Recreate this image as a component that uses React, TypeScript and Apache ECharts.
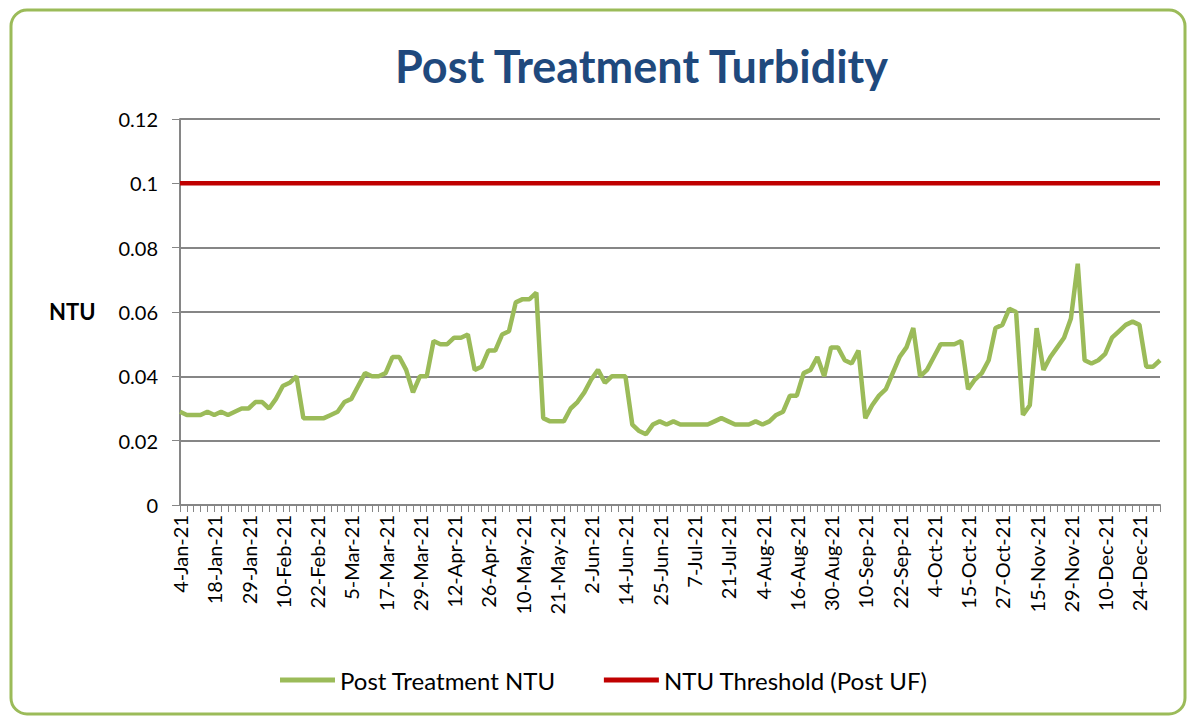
import React, { useEffect, useRef } from "react";
import * as echarts from "echarts";

const dates: string[] = [
  "4-Jan-21", "6-Jan-21", "8-Jan-21", "11-Jan-21", "13-Jan-21",
  "18-Jan-21", "20-Jan-21", "22-Jan-21", "25-Jan-21", "27-Jan-21",
  "29-Jan-21", "1-Feb-21", "3-Feb-21", "5-Feb-21", "8-Feb-21",
  "10-Feb-21", "12-Feb-21", "15-Feb-21", "17-Feb-21", "19-Feb-21",
  "22-Feb-21", "24-Feb-21", "26-Feb-21", "1-Mar-21", "3-Mar-21",
  "5-Mar-21", "8-Mar-21", "10-Mar-21", "12-Mar-21", "15-Mar-21",
  "17-Mar-21", "19-Mar-21", "22-Mar-21", "24-Mar-21", "26-Mar-21",
  "29-Mar-21", "31-Mar-21", "5-Apr-21", "7-Apr-21", "9-Apr-21",
  "12-Apr-21", "14-Apr-21", "16-Apr-21", "19-Apr-21", "21-Apr-21",
  "26-Apr-21", "28-Apr-21", "30-Apr-21", "5-May-21", "7-May-21",
  "10-May-21", "12-May-21", "14-May-21", "17-May-21", "19-May-21",
  "21-May-21", "24-May-21", "26-May-21", "28-May-21", "31-May-21",
  "2-Jun-21", "4-Jun-21", "7-Jun-21", "9-Jun-21", "11-Jun-21",
  "14-Jun-21", "16-Jun-21", "18-Jun-21", "21-Jun-21", "23-Jun-21",
  "25-Jun-21", "28-Jun-21", "30-Jun-21", "2-Jul-21", "5-Jul-21",
  "7-Jul-21", "9-Jul-21", "12-Jul-21", "14-Jul-21", "16-Jul-21",
  "21-Jul-21", "23-Jul-21", "26-Jul-21", "28-Jul-21", "30-Jul-21",
  "4-Aug-21", "6-Aug-21", "9-Aug-21", "11-Aug-21", "13-Aug-21",
  "16-Aug-21", "18-Aug-21", "20-Aug-21", "23-Aug-21", "25-Aug-21",
  "30-Aug-21", "1-Sep-21", "3-Sep-21", "6-Sep-21", "8-Sep-21",
  "10-Sep-21", "13-Sep-21", "15-Sep-21", "17-Sep-21", "20-Sep-21",
  "22-Sep-21", "24-Sep-21", "27-Sep-21", "29-Sep-21", "1-Oct-21",
  "4-Oct-21", "6-Oct-21", "8-Oct-21", "11-Oct-21", "13-Oct-21",
  "15-Oct-21", "18-Oct-21", "20-Oct-21", "22-Oct-21", "25-Oct-21",
  "27-Oct-21", "29-Oct-21", "1-Nov-21", "5-Nov-21", "10-Nov-21",
  "15-Nov-21", "17-Nov-21", "19-Nov-21", "22-Nov-21", "24-Nov-21",
  "29-Nov-21", "1-Dec-21", "3-Dec-21", "6-Dec-21", "8-Dec-21",
  "10-Dec-21", "13-Dec-21", "15-Dec-21", "17-Dec-21", "20-Dec-21",
  "24-Dec-21", "27-Dec-21", "29-Dec-21", "31-Dec-21",
];

const postTreatmentNTU: number[] = [
  0.029, 0.028, 0.028, 0.028, 0.029, 0.028, 0.029, 0.028, 0.029, 0.030,
  0.030, 0.032, 0.032, 0.030, 0.033, 0.037, 0.038, 0.040, 0.027, 0.027,
  0.027, 0.027, 0.028, 0.029, 0.032, 0.033, 0.037, 0.041, 0.040, 0.040,
  0.041, 0.046, 0.046, 0.042, 0.035, 0.040, 0.040, 0.051, 0.050, 0.050,
  0.052, 0.052, 0.053, 0.042, 0.043, 0.048, 0.048, 0.053, 0.054, 0.063,
  0.064, 0.064, 0.066, 0.027, 0.026, 0.026, 0.026, 0.030, 0.032, 0.035,
  0.039, 0.042, 0.038, 0.040, 0.040, 0.040, 0.025, 0.023, 0.022, 0.025,
  0.026, 0.025, 0.026, 0.025, 0.025, 0.025, 0.025, 0.025, 0.026, 0.027,
  0.026, 0.025, 0.025, 0.025, 0.026, 0.025, 0.026, 0.028, 0.029, 0.034,
  0.034, 0.041, 0.042, 0.046, 0.040, 0.049, 0.049, 0.045, 0.044, 0.048,
  0.027, 0.031, 0.034, 0.036, 0.041, 0.046, 0.049, 0.055, 0.040, 0.042,
  0.046, 0.050, 0.050, 0.050, 0.051, 0.036, 0.039, 0.041, 0.045, 0.055,
  0.056, 0.061, 0.060, 0.028, 0.031, 0.055, 0.042, 0.046, 0.049, 0.052,
  0.058, 0.075, 0.045, 0.044, 0.045, 0.047, 0.052, 0.054, 0.056, 0.057,
  0.056, 0.043, 0.043, 0.045,
];

const thresholdValue = 0.1;
const thresholdNTU: number[] = dates.map(() => thresholdValue);

const seriesNames = ["Post Treatment NTU", "NTU Threshold (Post UF)"];
const yTicks = { min: 0, max: 0.12, interval: 0.02 };

export default function App() {
  const ref = useRef<HTMLDivElement>(null);
  useEffect(() => {
    if (!ref.current) return;
    const chart = echarts.init(ref.current, null, { renderer: "svg" });
    const font = "Lato, 'Open Sans', sans-serif";
    chart.setOption({
      animation: false,
      backgroundColor: "#ffffff",
      title: {
        text: "Post Treatment Turbidity",
        left: 390,
        top: 38,
        textStyle: {
          fontFamily: font,
          fontSize: 45,
          fontWeight: "bold",
          color: "#1F497D",
        },
      },
      graphic: [
        {
          type: "rect",
          shape: { x: 11, y: 10, width: 1174, height: 704, r: 16 },
          style: { fill: "none", stroke: "#9BBB59", lineWidth: 3 },
          silent: true,
        },
        {
          type: "text",
          left: 49,
          top: 300,
          style: {
            text: "NTU",
            fontFamily: font,
            fontSize: 22,
            fontWeight: "bold",
            fill: "#000",
          },
        },
      ],
      legend: {
        bottom: 22,
        left: 275,
        itemGap: 48,
        itemWidth: 55,
        itemHeight: 5,
        icon: "rect",
        textStyle: { fontFamily: font, fontSize: 24, color: "#000" },
        data: seriesNames,
      },
      grid: { left: 180, right: 33, top: 119, bottom: 214 },
      xAxis: {
        type: "category",
        data: dates,
        boundaryGap: false,
        axisLine: { lineStyle: { color: "#868686", width: 2 } },
        axisTick: { interval: 0, length: 7, lineStyle: { color: "#868686" } },
        axisLabel: {
          interval: 4,
          rotate: 90,
          fontFamily: font,
          fontSize: 20,
          color: "#000",
          margin: 10,
        },
      },
      yAxis: {
        type: "value",
        min: yTicks.min,
        max: yTicks.max,
        interval: yTicks.interval,
        axisLine: { show: true, lineStyle: { color: "#868686", width: 2 } },
        axisTick: { show: true, length: 8, lineStyle: { color: "#868686" } },
        axisLabel: {
          fontFamily: font,
          fontSize: 20,
          color: "#000",
          margin: 22,
        },
        splitLine: { lineStyle: { color: "#868686", width: 2 } },
      },
      series: [
        {
          name: seriesNames[0],
          type: "line",
          data: postTreatmentNTU,
          showSymbol: false,
          symbol: "none",
          lineStyle: { color: "#9BBB59", width: 4.5 },
          itemStyle: { color: "#9BBB59" },
        },
        {
          name: seriesNames[1],
          type: "line",
          data: thresholdNTU,
          showSymbol: false,
          symbol: "none",
          lineStyle: { color: "#C00000", width: 4.5 },
          itemStyle: { color: "#C00000" },
        },
      ],
    });
    return () => chart.dispose();
  }, []);
  return (
    <div
      ref={ref}
      style={{ position: "fixed", left: 0, top: 0, width: 1193, height: 719 }}
    />
  );
}
